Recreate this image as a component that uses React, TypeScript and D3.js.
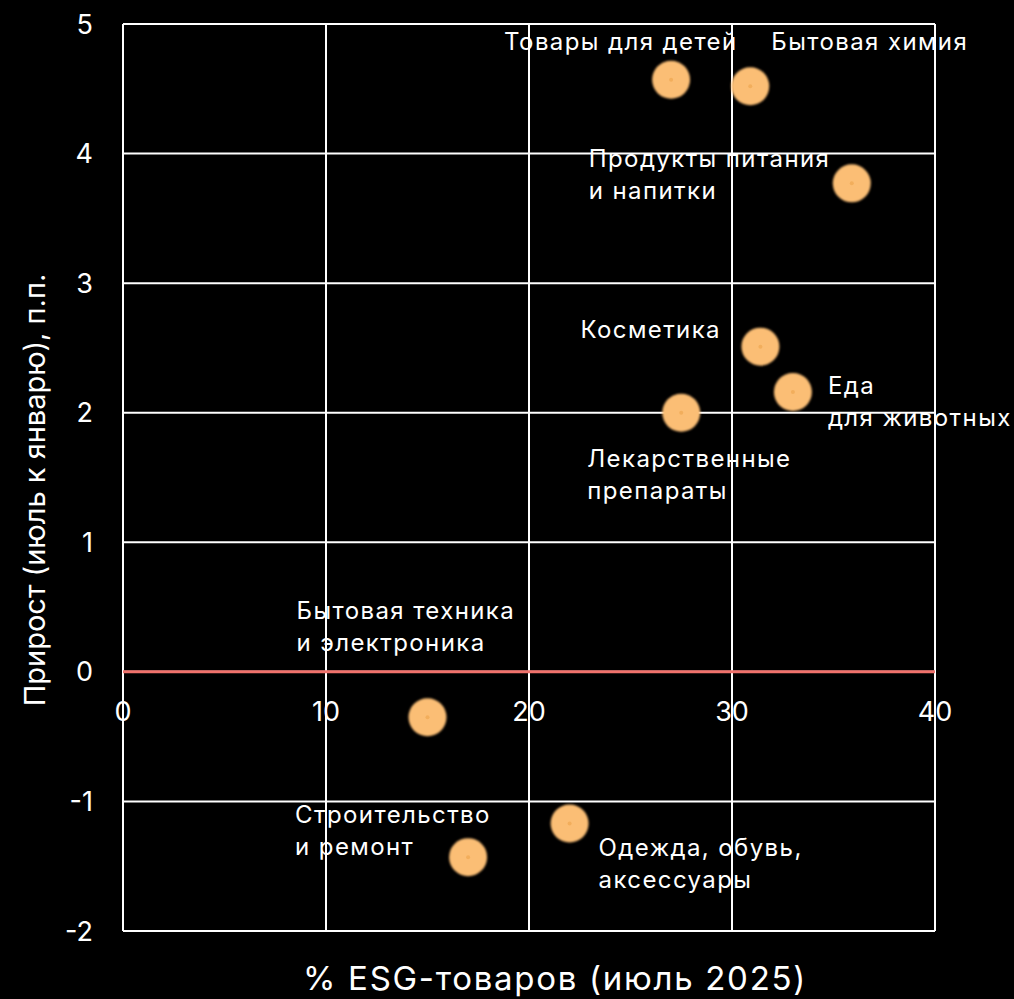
import React from "react";
import * as d3 from "d3";

// Categories and their values: share of ESG goods (July 2025, %) and growth July vs January (p.p.)
const categories = [
  ["Товары для детей"],
  ["Бытовая химия"],
  ["Продукты питания", "и напитки"],
  ["Косметика"],
  ["Еда", "для животных"],
  ["Лекарственные", "препараты"],
  ["Бытовая техника", "и электроника"],
  ["Строительство", "и ремонт"],
  ["Одежда, обувь,", "аксессуары"],
];
const esgShare = [27.0, 30.9, 35.9, 31.4, 33.0, 27.5, 15.0, 17.0, 22.0];
const growth = [4.57, 4.52, 3.77, 2.51, 2.16, 2.0, -0.35, -1.43, -1.17];

const xTicks = [0, 10, 20, 30, 40];
const yTicks = [-2, -1, 0, 1, 2, 3, 4, 5];

// Label placement: offset (px) of the first line's left baseline from the point
const labelOffsets: [number, number][] = [
  [-167, -30],
  [21, -36],
  [-263, -16],
  [-180, -9],
  [35, 2],
  [-94, 54],
  [-131, -98],
  [-173, -34],
  [29, 33],
];

const W = 1014;
const H = 999;
const FONT = "Inter, 'Noto Sans', sans-serif";

export default function App() {
  const x = d3.scaleLinear().domain([0, 40]).range([123, 935]);
  const y = d3.scaleLinear().domain([-2, 5]).range([931, 24]);
  const [x0, x1] = x.range();
  const [yb, yt] = y.range();

  return (
    <svg
      width={W}
      height={H}
      style={{ position: "absolute", left: 0, top: 0, background: "#000" }}
      fontFamily={FONT}
    >
      <defs>
        <filter id="soft" x="-20%" y="-20%" width="140%" height="140%">
          <feGaussianBlur stdDeviation="0.8" />
        </filter>
      </defs>
      <rect width={W} height={H} fill="#000" />

      {/* grid */}
      {xTicks.map((t) => (
        <line key={"vx" + t} x1={x(t)} x2={x(t)} y1={yt} y2={yb} stroke="#fff" strokeWidth={2} />
      ))}
      {yTicks.map((t) => (
        <line key={"hy" + t} x1={x0} x2={x1} y1={y(t)} y2={y(t)} stroke="#fff" strokeWidth={2} />
      ))}

      {/* zero line */}
      <line x1={x0} x2={x1} y1={y(0)} y2={y(0)} stroke="#F0726C" strokeWidth={3} />

      {/* y tick labels */}
      {yTicks.map((t) => (
        <text
          key={"yl" + t}
          x={93}
          y={y(t)}
          textAnchor="end"
          dominantBaseline="central"
          fill="#fff"
          fontSize={27}
        >
          {t}
        </text>
      ))}

      {/* x tick labels */}
      {xTicks.map((t) => (
        <text
          key={"xl" + t}
          x={x(t)}
          y={y(0) + 40}
          textAnchor="middle"
          dominantBaseline="central"
          fill="#fff"
          fontSize={27}
        >
          {t}
        </text>
      ))}

      {/* points */}
      {esgShare.map((v, i) => (
        <g key={"p" + i}>
          <circle cx={x(v)} cy={y(growth[i])} r={19} fill="#FBBE75" filter="url(#soft)" />
          <circle cx={x(v)} cy={y(growth[i])} r={2} fill="#F2AE5C" />
        </g>
      ))}

      {/* labels */}
      {categories.map((lines, i) => {
        const px = x(esgShare[i]);
        const py = y(growth[i]);
        const [dx, dy] = labelOffsets[i];
        return (
          <text
            key={"lab" + i}
            x={px + dx}
            y={py + dy}
            fill="#fff"
            fontSize={24}
            letterSpacing={1.4}
          >
            {lines.map((ln, j) => (
              <tspan key={j} x={px + dx} dy={j === 0 ? 0 : 32}>
                {ln}
              </tspan>
            ))}
          </text>
        );
      })}

      {/* axis titles */}
      <text x={555} y={990} textAnchor="middle" fill="#fff" fontSize={33} letterSpacing={1.7}>
        % ESG-товаров (июль 2025)
      </text>
      <text
        transform={`translate(45,490) rotate(-90)`}
        textAnchor="middle"
        fill="#fff"
        fontSize={29}
      >
        Прирост (июль к январю), п.п.
      </text>
    </svg>
  );
}
